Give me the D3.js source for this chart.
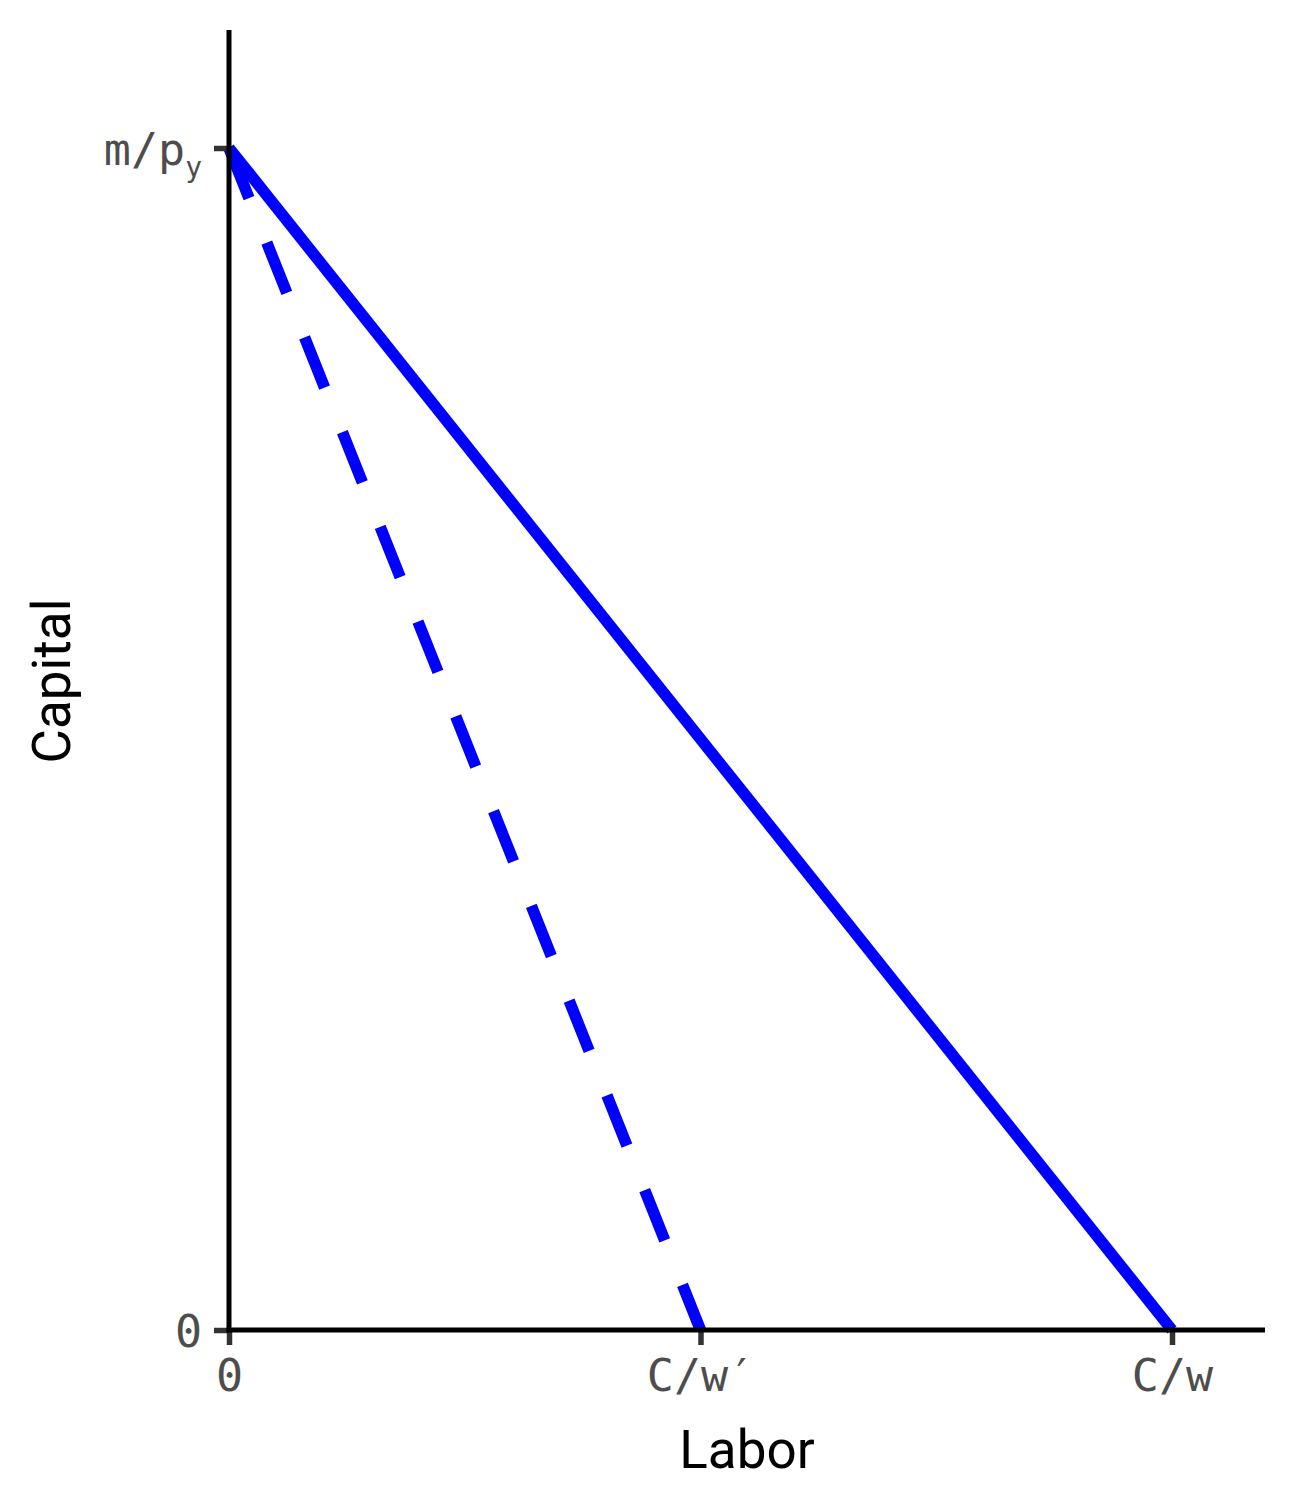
<!DOCTYPE html>
<html>
<head>
<meta charset="utf-8">
<script src="https://cdn.jsdelivr.net/npm/d3@7"></script>
<style>
  html, body { margin: 0; padding: 0; background: #fff; }
  svg { display: block; }
</style>
</head>
<body>
<svg id="chart" width="1296" height="1512"></svg>
<script>
// ---- data ----
const xTickValues = [0, 0.5, 1];
const xTickLabels = ["0", "C/w\u2032", "C/w"];
const yTickValues = [0, 1];
const yTickLabels = [["0", ""], ["m/p", "y"]];   // [main, subscript]
const budgetX = [0, 1];          // original budget line: Labor
const budgetY = [1, 0];          // original budget line: Capital
const newBudgetX = [0, 0.5];     // after wage increase
const newBudgetY = [1, 0];
const xDomain = [0, 1.1];
const yDomain = [0, 1.1];
const xTitle = "Labor";
const yTitle = "Capital";

(function () {
// ---- layout ----
const svg = d3.select("#chart");
const mLeft = 229, mRight = 1265, mTop = 30, mBottom = 1330;

const x = d3.scaleLinear().domain(xDomain).range([mLeft, mLeft + (1172 - mLeft) * 1.1]);
const y = d3.scaleLinear().domain(yDomain).range([mBottom, mBottom - (mBottom - 148) * 1.1]);

const line = d3.line().x(d => x(d[0])).y(d => y(d[1]));

const solidPts = budgetX.map((v, i) => [v, budgetY[i]]);
const dashPts = newBudgetX.map((v, i) => [v, newBudgetY[i]]);

svg.append("path").datum(dashPts).attr("d", line)
  .attr("fill", "none").attr("stroke", "#0000ff").attr("stroke-width", 11.5)
  .attr("stroke-dasharray", "54,48").attr("stroke-linecap", "butt");
svg.append("path").datum(solidPts).attr("d", line)
  .attr("fill", "none").attr("stroke", "#0000ff").attr("stroke-width", 11.5)
  .attr("stroke-linecap", "butt");

// ---- axes ----
const monoFont = "'DejaVu Sans Mono', monospace";

const xAxis = d3.axisBottom(x).tickValues(xTickValues)
  .tickFormat((d, i) => xTickLabels[i]).tickSize(15).tickPadding(14);
const gx = svg.append("g").attr("transform", `translate(0,${mBottom})`).call(xAxis);
gx.select(".domain").remove();
gx.selectAll(".tick line").attr("stroke", "#333333").attr("stroke-width", 5.5);
gx.selectAll(".tick text").attr("font-family", monoFont).attr("font-size", 45)
  .attr("fill", "#4d4d4d").attr("dy", "0.72em");

const yAxis = d3.axisLeft(y).tickValues(yTickValues)
  .tickFormat(() => "").tickSize(15).tickPadding(12);
const gy = svg.append("g").attr("transform", `translate(${mLeft},0)`).call(yAxis);
gy.select(".domain").remove();
gy.selectAll(".tick line").attr("stroke", "#333333").attr("stroke-width", 5.5);
gy.selectAll(".tick text").each(function(d, i) {
  const t = d3.select(this);
  t.attr("font-family", monoFont).attr("font-size", 45).attr("fill", "#4d4d4d")
   .attr("x", -27).attr("dy", "0.36em").text(null);
  const lab = yTickLabels[i];
  t.append("tspan").text(lab[0]);
  if (lab[1]) {
    t.append("tspan").text(lab[1]).attr("font-size", 28).attr("dy", "0.45em");
  }
});

// axis lines
svg.append("line").attr("x1", mLeft).attr("x2", mLeft).attr("y1", mTop).attr("y2", mBottom + 2.5)
  .attr("stroke", "#000").attr("stroke-width", 5);
svg.append("line").attr("x1", mLeft - 2.5).attr("x2", mRight).attr("y1", mBottom).attr("y2", mBottom)
  .attr("stroke", "#000").attr("stroke-width", 5);

// ---- titles ----
svg.append("text").attr("x", 747).attr("y", 1468).attr("text-anchor", "middle")
  .attr("font-family", "Roboto, sans-serif").attr("font-size", 53).attr("fill", "#000")
  .text(xTitle);
svg.append("text").attr("transform", "translate(70,681) rotate(-90)").attr("text-anchor", "middle")
  .attr("font-family", "Roboto, sans-serif").attr("font-size", 53).attr("fill", "#000")
  .text(yTitle);
})();
</script>
</body>
</html>
